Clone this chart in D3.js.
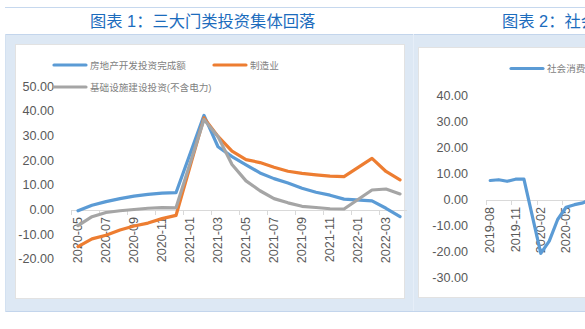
<!DOCTYPE html>
<html><head><meta charset="utf-8">
<script src="https://cdn.jsdelivr.net/npm/d3@7"></script>
<style>
html,body{margin:0;padding:0;background:#fff;}
svg{display:block;}
text{font-family:"Liberation Sans","Noto Sans CJK SC",sans-serif;}
</style></head>
<body>
<svg id="c" width="585" height="329"></svg>
<script>
// ---------- Chart 1 data ----------
const months1 = ["2020-05","2020-06","2020-07","2020-08","2020-09","2020-10","2020-11","2020-12",
  "2021-01","2021-02","2021-03","2021-04","2021-05","2021-06","2021-07","2021-08","2021-09","2021-10","2021-11","2021-12",
  "2022-01","2022-02","2022-03","2022-04"];
const realEstate = [-0.3,1.9,3.4,4.6,5.6,6.3,6.8,7.0, null,38.3,25.6,21.6,18.3,15.0,12.7,10.9,8.8,7.2,6.0,4.4, null,3.7,0.7,-2.7];
const manufacturing = [-14.8,-11.7,-10.2,-8.1,-6.5,-5.3,-3.5,-2.2, null,37.3,29.8,23.8,20.4,19.2,17.3,15.7,14.8,14.2,13.7,13.5, null,20.9,15.6,12.2];
const infrastructure = [-6.3,-2.7,-1.0,-0.3,0.2,0.7,1.0,0.9, null,36.6,29.7,18.4,11.8,7.8,4.6,2.9,1.5,1.0,0.5,0.4, null,8.1,8.5,6.5];
const seriesNames1 = ["房地产开发投资完成额","制造业","基础设施建设投资(不含电力)"];
const yTicks1 = [-20,-10,0,10,20,30,40,50];
const title1 = "图表 1：三大门类投资集体回落";

// ---------- Chart 2 data ----------
const months2 = ["2019-08","2019-09","2019-10","2019-11","2019-12",
  "2020-01","2020-02","2020-03","2020-04","2020-05","2020-06","2020-07","2020-08","2020-09","2020-10","2020-11","2020-12",
  "2021-01","2021-02","2021-03","2021-04","2021-05","2021-06","2021-07","2021-08","2021-09","2021-10","2021-11","2021-12",
  "2022-01","2022-02","2022-03","2022-04"];
const retail = [7.5,7.8,7.2,8.0,8.0, null,-20.5,-15.8,-7.5,-2.8,-1.8,-1.1,0.5,3.3,4.3,5.0,4.6,
  null,33.8,34.2,17.7,12.4,12.1,8.5,2.5,4.4,4.9,3.9,1.7, null,6.7,-3.5,-11.1];
const seriesNames2 = ["社会消费品零售总额:当月同比"];
const yTicks2 = [-30,-20,-10,0,10,20,30,40];
const title2 = "图表 2：社会消费品零售总额增速";

const colors = ["#5b9bd5","#ed7d31","#a5a5a5"];
const fmt = v => v.toFixed(2);

const svg = d3.select("#c");

// ---------- Frame ----------
svg.append("line").attr("x1",5).attr("x2",585).attr("y1",7.5).attr("y2",7.5).attr("stroke","#c6d8ee").attr("stroke-width",1);
svg.append("rect").attr("x",5).attr("y",34).attr("width",590).attr("height",277).attr("fill","#dde8f4");
svg.append("line").attr("x1",5).attr("x2",585).attr("y1",34.5).attr("y2",34.5).attr("stroke","#c3d5ec");
svg.append("line").attr("x1",5).attr("x2",585).attr("y1",311.5).attr("y2",311.5).attr("stroke","#c3d5ec");
svg.append("line").attr("x1",5.5).attr("x2",5.5).attr("y1",34).attr("y2",312).attr("stroke","#d3e1f1");
svg.append("line").attr("x1",413.5).attr("x2",413.5).attr("y1",34).attr("y2",311).attr("stroke","#e6eef8");
svg.append("rect").attr("x",15.5).attr("y",44.5).attr("width",389).attr("height",254).attr("fill","#fff").attr("stroke","#e2e2e2");
svg.append("rect").attr("x",418.5).attr("y",47.5).attr("width",400).attr("height",250).attr("fill","#fff").attr("stroke","#e2e2e2");

// titles
svg.append("text").attr("x",90).attr("y",21).attr("dominant-baseline","central")
  .attr("font-family","Noto Sans CJK SC").attr("font-size",16.3).attr("fill","#1c6cbd").text(title1);
svg.append("text").attr("x",502).attr("y",21).attr("dominant-baseline","central")
  .attr("font-family","Noto Sans CJK SC").attr("font-size",16.3).attr("fill","#1c6cbd").text(title2);

// ---------- Generic chart drawer ----------
function drawChart(o){
  const g = svg.append("g");
  const x = d3.scaleBand().domain(o.cats).range(o.xRange).paddingInner(0).paddingOuter(0);
  const y = d3.scaleLinear().domain(o.yDomain).range(o.yRange);
  const y0 = y(0);
  // y labels
  g.selectAll("text.yl").data(o.yTicks).join("text").attr("class","yl")
    .attr("x",o.yLabelX).attr("y",d=>y(d)).attr("text-anchor","end").attr("dominant-baseline","central")
    .attr("font-size",12.6).attr("fill","#595959").text(fmt);
  // x axis line
  g.append("line").attr("x1",o.xRange[0]).attr("x2",o.xRange[1]).attr("y1",y0+0.5).attr("y2",y0+0.5)
    .attr("stroke","#d9d9d9").attr("stroke-width",1);
  const tickCats = o.cats.filter((c,i)=>i%o.every===0);
  g.selectAll("line.tk").data(tickCats).join("line").attr("class","tk")
    .attr("x1",d=>Math.round(x(d))+0.5).attr("x2",d=>Math.round(x(d))+0.5)
    .attr("y1",y0).attr("y2",y0+5).attr("stroke","#d9d9d9");
  g.selectAll("text.xl").data(tickCats).join("text").attr("class","xl")
    .attr("transform",d=>`translate(${x(d)+x.bandwidth()/2},${y0+7}) rotate(-90)`)
    .attr("text-anchor","end").attr("dominant-baseline","central")
    .attr("font-size",12.6).attr("fill","#595959").text(d=>d);
  // lines
  o.series.forEach((s,k)=>{
    const pts = o.cats.map((c,i)=>[c,s[i]]).filter(p=>p[1]!=null);
    const line = d3.line().x(p=>x(p[0])+x.bandwidth()/2).y(p=>y(p[1]));
    g.append("path").attr("d",line(pts)).attr("fill","none").attr("stroke",o.colors[k])
      .attr("stroke-width",3.2).attr("stroke-linejoin","round").attr("stroke-linecap","round");
  });
  // legend
  o.legend.forEach((l,k)=>{
    g.append("line").attr("x1",l[0]).attr("x2",l[0]+32).attr("y1",l[1]).attr("y2",l[1])
      .attr("stroke",o.colors[k]).attr("stroke-width",3.2).attr("stroke-linecap","round");
    g.append("text").attr("x",l[0]+36).attr("y",l[1]).attr("dominant-baseline","central")
      .attr("font-family","Noto Sans CJK SC").attr("font-size",9.6).attr("fill","#7f7f7f").text(o.names[k]);
  });
}

drawChart({
  cats: months1, xRange:[71,407], yDomain:[-20,50], yRange:[259.4,86.5],
  yTicks: yTicks1, yLabelX:54, every:2,
  series:[realEstate, manufacturing, infrastructure], colors: colors, names: seriesNames1,
  legend:[[54,65],[214,65],[54,87]]
});

drawChart({
  cats: months2, xRange:[486,486+33*8.43], yDomain:[-30,40], yRange:[278,96],
  yTicks: yTicks2, yLabelX:468, every:3,
  series:[retail], colors:[colors[0]], names: seriesNames2,
  legend:[[511,68.5]]
});
</script>
</body></html>
